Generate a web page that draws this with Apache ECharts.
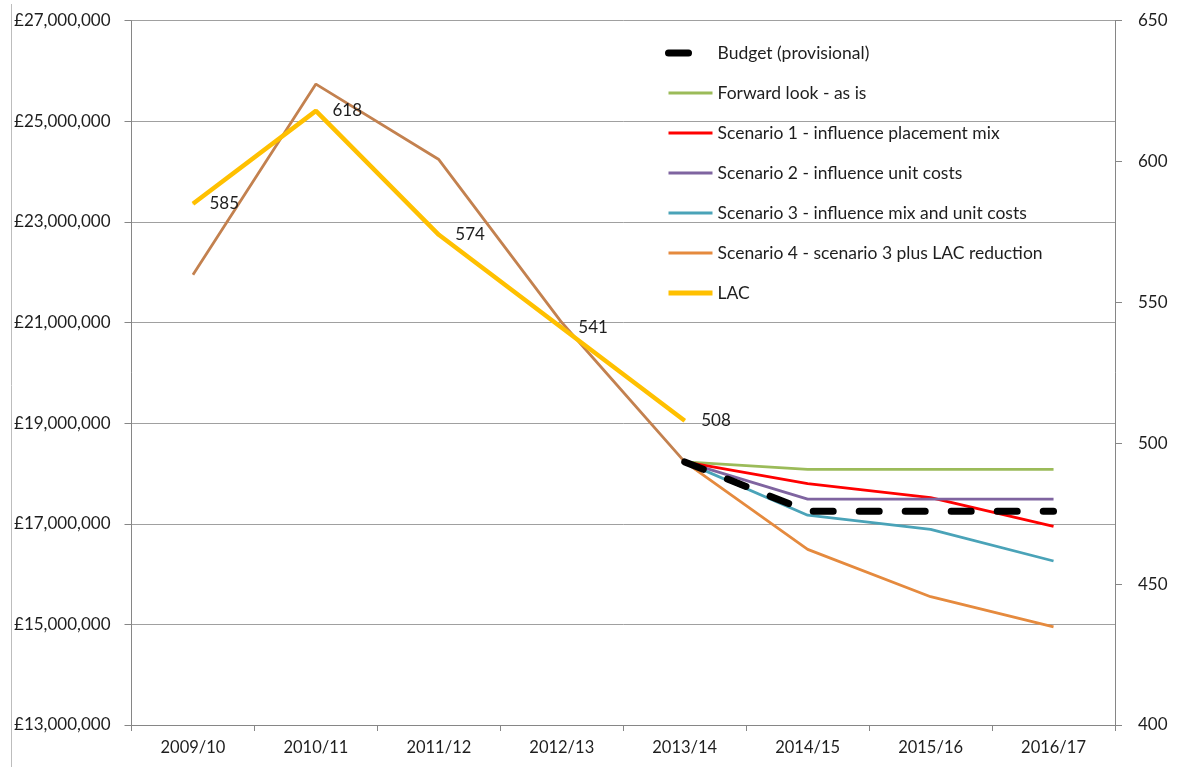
<!DOCTYPE html>
<html>
<head>
<meta charset="utf-8">
<title>Budget forecast scenarios and LAC</title>
<script src="https://cdn.jsdelivr.net/npm/echarts@6/dist/echarts.min.js"></script>
<style>
  html, body { margin: 0; padding: 0; background: #fff; }
  #chart { width: 1183px; height: 767px; }
</style>
</head>
<body>
<div id="chart"></div>
<script>
const years = ['2009/10', '2010/11', '2011/12', '2012/13', '2013/14', '2014/15', '2015/16', '2016/17'];

// spend (£), left axis
const actual      = [21950000, 25740000, 24240000, 21000000, 18230000, null, null, null];
const budget      = [null, null, null, null, 18230000, 17250000, 17250000, 17250000];
const forwardLook = [null, null, null, null, 18230000, 18080000, 18080000, 18080000];
const scenario1   = [null, null, null, null, 18230000, 17800000, 17520000, 16950000];
const scenario2   = [null, null, null, null, 18230000, 17490000, 17490000, 17490000];
const scenario3   = [null, null, null, null, 18230000, 17170000, 16890000, 16260000];
const scenario4   = [null, null, null, null, 18230000, 16490000, 15550000, 14950000];

// looked-after children, right axis
const lac = [585, 618, 574, 541, 508, null, null, null];

const chart = echarts.init(document.getElementById('chart'));
const font = 'Lato, "Open Sans", sans-serif';
const textColor = '#1e1e1e';

function money(v) {
    return '£' + v.toLocaleString('en-GB');
}

function line(name, data, color, width, extra) {
    return Object.assign({
        name: name,
        type: 'line',
        data: data,
        symbol: 'none',
        connectNulls: false,
        animation: false,
        lineStyle: { color: color, width: width },
        itemStyle: { color: color }
    }, extra || {});
}

const options = {
    animation: false,
    textStyle: { fontFamily: font },
    grid: { left: 131.5, right: 68, top: 20.7, bottom: 42 },
    legend: {
        orient: 'vertical',
        left: 665,
        top: 44,
        padding: 0,
        itemWidth: 44,
        itemHeight: 16,
        itemGap: 22,
        itemStyle: { opacity: 0 },
        lineStyle: { width: 3 },
        textStyle: { fontFamily: font, fontSize: 17.5, color: textColor },
        data: [
            { name: 'Budget (provisional)', lineStyle: { width: 7, type: [20, 40], cap: 'round' } },
            'Forward look - as is',
            'Scenario 1 - influence placement mix',
            'Scenario 2 - influence unit costs',
            'Scenario 3 - influence mix and unit costs',
            'Scenario 4 - scenario 3 plus LAC reduction',
            { name: 'LAC', lineStyle: { width: 5 } }
        ]
    },
    xAxis: {
        type: 'category',
        data: years,
        boundaryGap: true,
        axisLine: { lineStyle: { color: '#868686', width: 1 } },
        axisTick: { show: true, length: 6, lineStyle: { color: '#868686' } },
        axisLabel: { fontFamily: font, fontSize: 16.5, color: textColor, margin: 14 }
    },
    yAxis: [{
        type: 'value',
        min: 13000000,
        max: 27000000,
        interval: 2000000,
        axisLine: { show: true, lineStyle: { color: '#868686' } },
        axisTick: { show: true, length: 7, lineStyle: { color: '#868686' } },
        axisLabel: { fontFamily: font, fontSize: 17, color: textColor, margin: 21, formatter: money },
        splitLine: { show: true, lineStyle: { color: '#a0a0a0', width: 1 } }
    }, {
        type: 'value',
        position: 'right',
        min: 400,
        max: 650,
        interval: 50,
        axisLine: { show: true, lineStyle: { color: '#868686' } },
        axisTick: { show: true, length: 7, lineStyle: { color: '#868686' } },
        axisLabel: { fontFamily: font, fontSize: 17, color: textColor, margin: 23 },
        splitLine: { show: false }
    }],
    series: [
        line('actual', actual, '#c3814f', 2.8),
        line('Forward look - as is', forwardLook, '#9bbb59', 2.8),
        line('Scenario 1 - influence placement mix', scenario1, '#ff0000', 2.8),
        line('Scenario 2 - influence unit costs', scenario2, '#7f64a0', 2.8),
        line('Scenario 3 - influence mix and unit costs', scenario3, '#4aa3b8', 2.8),
        line('Scenario 4 - scenario 3 plus LAC reduction', scenario4, '#e58a3e', 2.8),
        line('Budget (provisional)', budget, '#000000', 7, {
            lineStyle: { color: '#000', width: 7, type: [20, 26], cap: 'round' }
        }),
        line('LAC', lac, '#ffc000', 4.5, {
            yAxisIndex: 1,
            symbol: 'circle',
            symbolSize: 1,
            showSymbol: true,
            label: {
                show: true,
                position: 'right',
                distance: 16,
                fontFamily: font,
                fontSize: 17,
                color: textColor
            }
        })
    ],
    graphic: [{
        type: 'line',
        shape: { x1: 11.5, y1: 4, x2: 11.5, y2: 767 },
        style: { stroke: '#bdbdbd', lineWidth: 1 },
        silent: true
    }]
};

chart.setOption(options);
</script>
</body>
</html>
